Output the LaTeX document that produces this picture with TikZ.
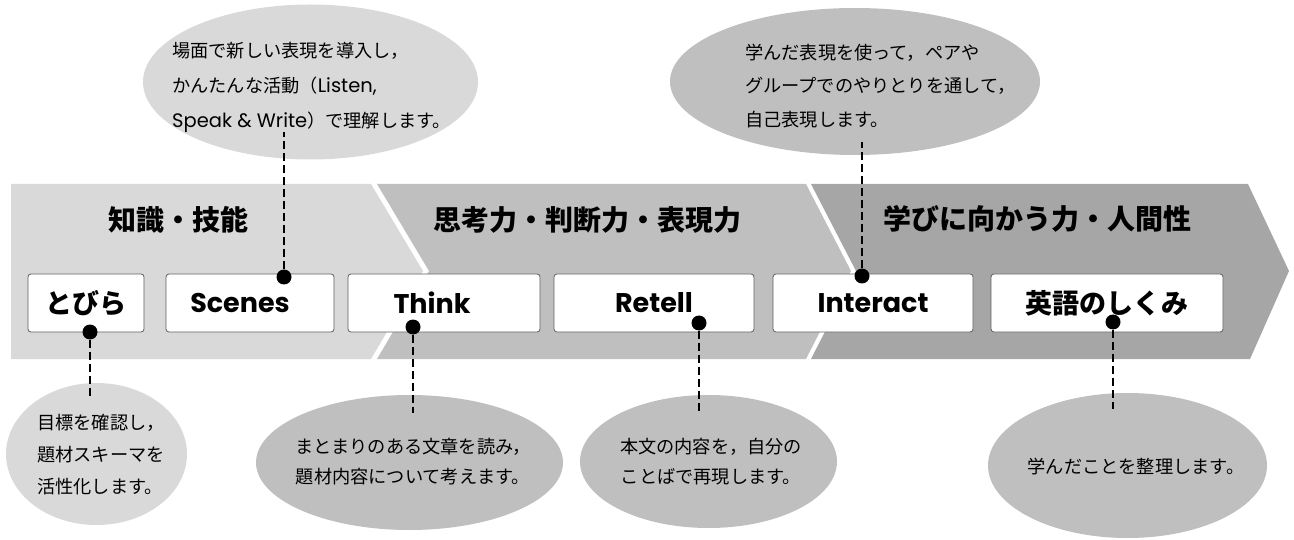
\documentclass[tikz,border=0pt]{standalone}
\usepackage{fontspec}
\setmainfont{Noto Sans CJK JP}
\newfontfamily\pop{Poppins}
\usetikzlibrary{shapes.geometric}
\definecolor{gA}{HTML}{D9D9D9}
\definecolor{gB}{HTML}{BFBFBF}
\definecolor{gC}{HTML}{A6A6A6}
\definecolor{edge}{HTML}{5F5F5F}
\tikzset{
  stagebox/.style={draw=edge, line width=0.8pt, fill=white, rounded corners=3pt,
    minimum height=58pt, inner sep=0pt, font=\bfseries\fontsize{27}{30}\selectfont},
  blackdot/.style={circle, fill=black, minimum size=15pt, inner sep=0pt},
  conn/.style={line width=2.8pt, dash pattern=on 8pt off 4pt},
  bubble/.style={ellipse, inner sep=0pt, draw=none},
  bubbletext/.style={inner sep=0pt, font=\fontsize{18.2}{#1}\selectfont},
  bubbletext/.default={34},
  bandtitle/.style={inner sep=0pt, font=\bfseries\fontsize{28}{30}\selectfont},
  latin/.style={}
}
\newcommand{\latinpart}[1]{{\pop\fontsize{19.5}{35}\selectfont #1}}
\begin{document}
\begin{tikzpicture}[x=1pt,y=-1pt]
\useasboundingbox (0,0) rectangle (1294,540);
% bands
\fill[gA] (11,184) -- (371,184) -- (423,271) -- (371,359) -- (11,359) -- cycle;
\fill[gB] (377,184) -- (806,184) -- (851,271) -- (806,359) -- (377,359) -- (429,271) -- cycle;
\fill[gC] (811,184) -- (1248,184) -- (1289,271) -- (1250,359) -- (811,359) -- (856,271) -- cycle;
\node[bandtitle] (t1) at (178,220) {知識・技能};
\node[bandtitle] (t2) at (587,220) {思考力・判断力・表現力};
\node[bandtitle] (t3) at (1037,219) {学びに向かう力・人間性};
% bubbles
\node[bubble, fill=gA, minimum width=335pt, minimum height=155pt] (bScenes) at (310.5,82) {};
\node[bubbletext=35, anchor=west, align=left] (bScenesT) at (172,87)
  {場面で新しい表現を導入し，\\かんたんな活動（\latinpart{Listen,}\\\latinpart{Speak \& Write}）で理解します。};
\node[bubble, fill=gB, minimum width=370pt, minimum height=147pt] (bInteract) at (855,81.5) {};
\node[bubbletext=33.5, anchor=west, align=left] (bInteractT) at (745,86)
  {学んだ表現を使って，ペアや\\グループでのやりとりを通して，\\自己表現します。};
\node[bubble, fill=gA, minimum width=181pt, minimum height=142pt] (bTobira) at (96.5,454) {};
\node[bubbletext=32, align=left] (bTobiraT) at (101,455) {目標を確認し，\\題材スキーマを\\活性化します。};
\node[bubble, fill=gB, minimum width=307pt, minimum height=135pt] (bThink) at (409.5,462.5) {};
\node[bubbletext=30, align=center] (bThinkT) at (413,462) {まとまりのある文章を読み，\\題材内容について考えます。};
\node[bubble, fill=gB, minimum width=257pt, minimum height=133pt] (bRetell) at (708.5,461.5) {};
\node[bubbletext=30, align=center] (bRetellT) at (711,462) {本文の内容を，自分の\\ことばで再現します。};
\node[bubble, fill=gB, minimum width=279pt, minimum height=145pt] (bEigo) at (1127.5,465.5) {};
\node[bubbletext] (bEigoT) at (1136,467) {学んだことを整理します。};
% stage boxes
\node[stagebox, minimum width=116pt] (sTobira) at (86,303) {とびら};
\node[stagebox, minimum width=168pt] (sScenes) at (250,303) {\pop Scenes\kern20pt};
\node[stagebox, minimum width=192pt] (sThink) at (444,303) {\pop Think\kern24pt};
\node[stagebox, minimum width=200pt] (sRetell) at (654,303) {\pop Retell};
\node[stagebox, minimum width=200pt] (sInteract) at (873,303) {\pop Interact};
\node[stagebox, minimum width=232pt] (sEigo) at (1107,303) {英語のしくみ};
% dots
\node[blackdot] (dScenes) at (284,277) {};
\node[blackdot] (dInteract) at (862,276) {};
\node[blackdot] (dTobira) at (90,332) {};
\node[blackdot] (dThink) at (413,327) {};
\node[blackdot] (dRetell) at (699,323) {};
\node[blackdot] (dEigo) at (1113,322) {};
% connector ends
\coordinate (eScenes) at (284,132);
\coordinate (eInteract) at (862,142);
\coordinate (eTobira) at (90,398);
\coordinate (eThink) at (413,413);
\coordinate (eRetell) at (699,412);
\coordinate (eEigo) at (1113,409);
\draw[conn] (dScenes) -- (eScenes);
\draw[conn] (dInteract) -- (eInteract);
\draw[conn] (dTobira) -- (eTobira);
\draw[conn] (dThink) -- (eThink);
\draw[conn] (dRetell) -- (eRetell);
\draw[conn] (dEigo) -- (eEigo);
\end{tikzpicture}
\end{document}
